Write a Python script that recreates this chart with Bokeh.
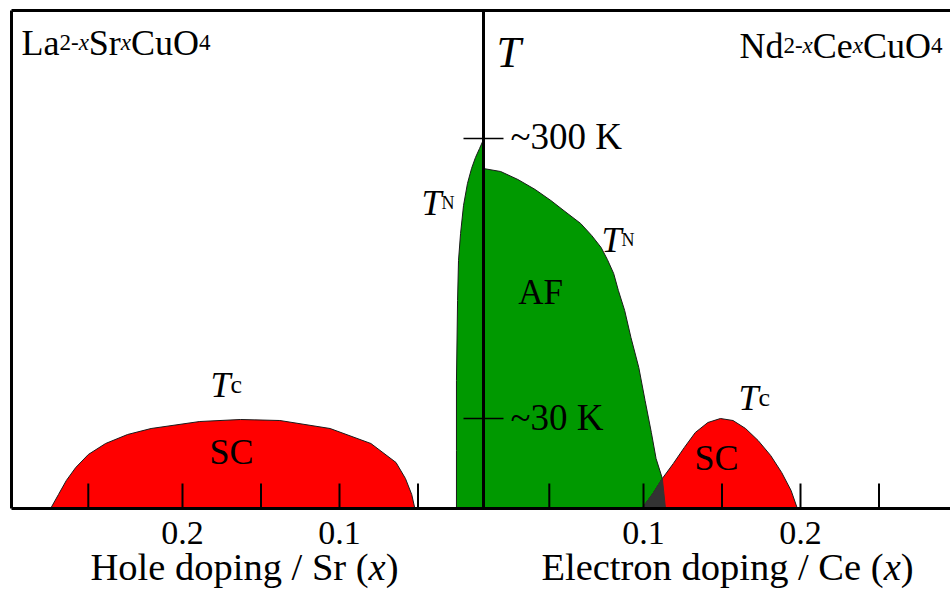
from bokeh.plotting import figure
from bokeh.models import Range1d
from bokeh.core.properties import value
from bokeh.embed import file_html
from bokeh.resources import INLINE

# ---------------- data (schematic phase diagram) ----------------
# hole-doped side (La2-xSrxCuO4), x = Sr content, t = schematic temperature height
hole_sc_x = [0.284, 0.279, 0.274, 0.268, 0.260, 0.249, 0.235, 0.220, 0.189, 0.163, 0.138, 0.106, 0.080,
             0.064, 0.058, 0.054, 0.052]
hole_sc_t = [0, 14, 28, 41, 54, 65, 74, 80, 87, 89, 88, 80, 65, 46, 30, 14, 0]
hole_af_x = [0.008, 0.0255, 0.0255, 0.0255, 0.0248, 0.0242, 0.0229, 0.0210, 0.0185, 0.0159, 0.0134, 0.0108, 0.008]
hole_af_t = [0, 0, 58, 128, 208, 248, 275, 303, 325, 340, 351, 360, 370]
# electron-doped side (Nd2-xCexCuO4), x = Ce content
elec_sc_x = [0.099, 0.106, 0.112, 0.119, 0.126, 0.133, 0.141, 0.149, 0.157, 0.165, 0.173, 0.181, 0.188, 0.194, 0.198]
elec_sc_t = [0, 15, 30, 45, 61, 76, 86, 90, 88, 80, 68, 53, 36, 18, 0]
elec_af_x = [-0.002, -0.002, 0.009, 0.020, 0.031, 0.041, 0.050, 0.060, 0.067, 0.073, 0.077, 0.081, 0.084,
             0.088, 0.092, 0.097, 0.101, 0.105, 0.108, 0.112, 0.114]
elec_af_t = [0, 340, 337, 329, 319, 308, 297, 285, 273, 261, 249, 235, 218, 198, 171, 141, 108, 76, 50, 30, 0]
overlap_x = [0.099, 0.106, 0.112, 0.114]
overlap_t = [0, 15, 30, 0]

hole_ticks = [0.05, 0.10, 0.15, 0.20, 0.26]
elec_ticks = [0.04, 0.10, 0.15, 0.20, 0.25]
hole_tick_labels = [0.2, 0.1]
elec_tick_labels = [0.1, 0.2]
t_marks = [370, 90]
t_mark_labels = ["~300 K", "~30 K"]

GREEN = "#009900"
RED = "#ff0000"
DARK = "#333333"
EDGE = "#1a1a1a"
FONT = value("Liberation Serif")

W, H = 950, 592
PX = 1570.0  # pixels per unit doping
DY = 11      # text baseline correction
p = figure(width=W, height=H, x_range=Range1d(0, W), y_range=Range1d(-84, 508),
           output_backend="svg", toolbar_location=None, min_border=0,
           x_axis_location=None, y_axis_location=None)
p.grid.visible = False
p.outline_line_color = None
p.background_fill_color = "white"
p.extra_x_ranges = {
    "hole": Range1d(start=496 / PX, end=(496 - W) / PX),
    "elec": Range1d(start=-486 / PX, end=(W - 486) / PX),
}

# regions
p.patch(hole_af_x, hole_af_t, x_range_name="hole", fill_color=GREEN, line_color=EDGE, line_width=1)
p.patch(elec_af_x, elec_af_t, x_range_name="elec", fill_color=GREEN, line_color=EDGE, line_width=1)
p.patch(hole_sc_x, hole_sc_t, x_range_name="hole", fill_color=RED, line_color=EDGE, line_width=1)
p.patch(elec_sc_x, elec_sc_t, x_range_name="elec", fill_color=RED, line_color=EDGE, line_width=1)
p.patch(overlap_x, overlap_t, x_range_name="elec", fill_color=DARK, line_color=DARK, line_width=1)

# frame lines
p.segment(x0=[11, 11, 11, 483], y0=[498, 0, 0, 0], x1=[W, W, 11, 483], y1=[498, 0, 498, 498],
          line_color="black", line_width=3)

# doping ticks
p.segment(x0=hole_ticks, x1=hole_ticks, y0=[0] * len(hole_ticks), y1=[25] * len(hole_ticks),
          x_range_name="hole", line_color="black", line_width=2)
p.segment(x0=elec_ticks, x1=elec_ticks, y0=[0] * len(elec_ticks), y1=[25] * len(elec_ticks),
          x_range_name="elec", line_color="black", line_width=2)

# temperature marks
p.segment(x0=[463] * 2, x1=[503] * 2, y0=t_marks, y1=t_marks, line_color="black", line_width=1.3)

# ---------------- text helpers ----------------
WID = {' ': 250, '(': 333, ')': 333, '-': 333, '.': 250, '/': 278, '~': 541,
       'A': 722, 'C': 667, 'E': 611, 'F': 556, 'H': 722, 'K': 722, 'L': 611, 'N': 722,
       'O': 722, 'S': 556, 'T': 611, 'a': 444, 'c': 444, 'd': 500, 'e': 444, 'g': 500,
       'i': 278, 'l': 278, 'n': 500, 'o': 500, 'p': 500, 'r': 333, 't': 278, 'u': 500, 'x': 500}
WID_IT = {'T': 556, 'x': 444, 'c': 444}


def seg_width(s, size, style):
    tot = 0
    for ch in s:
        if style == "italic" and ch in WID_IT:
            tot += WID_IT[ch]
        elif ch.isdigit():
            tot += 500
        else:
            tot += WID.get(ch, 500)
    return tot / 1000 * size


def rich(x0, y, segs, align="left"):
    total = sum(seg_width(t, s, st) for t, s, st in segs)
    x = x0 if align == "left" else (x0 - total / 2 if align == "center" else x0 - total)
    for t, s, st in segs:
        p.text(x=[x], y=[y + DY], text=[t], text_font=FONT, text_font_size=f"{s}px",
               text_font_style=st, text_baseline="alphabetic", text_align="left",
               text_color="black")
        x += seg_width(t, s, st)


M, S = 36, 23
rich(21, 455, [("La", M, "normal"), ("2-", S, "normal"), ("x", S, "italic"), ("Sr", M, "normal"),
               ("x", S, "italic"), ("CuO", M, "normal"), ("4", S, "normal")])
rich(942, 452, [("Nd", M, "normal"), ("2-", S, "normal"), ("x", S, "italic"), ("Ce", M, "normal"),
                ("x", S, "italic"), ("CuO", M, "normal"), ("4", S, "normal")], align="right")
rich(496, 445, [("T", 44, "italic")])
rich(421, 295, [("T", 36, "italic"), ("N", 18, "normal")])
rich(601, 258, [("T", 36, "italic"), ("N", 18, "normal")])
rich(210, 113, [("T", 36, "italic"), ("c", 26, "normal")])
rich(738, 100, [("T", 36, "italic"), ("c", 26, "normal")])
rich(540, 205, [("AF", 35, "normal")], align="center")
rich(231, 46, [("SC", 36, "normal")], align="center")
rich(716, 40, [("SC", 36, "normal")], align="center")
rich(510, 361, [(t_mark_labels[0], 37, "normal")])
rich(510, 80, [(t_mark_labels[1], 37, "normal")])

# tick labels
p.text(x=hole_tick_labels, y=[-35 + DY] * 2, text=[str(v) for v in hole_tick_labels], x_range_name="hole",
       text_font=FONT, text_font_size="34px", text_align="center", text_baseline="alphabetic")
p.text(x=elec_tick_labels, y=[-35 + DY] * 2, text=[str(v) for v in elec_tick_labels], x_range_name="elec",
       text_font=FONT, text_font_size="34px", text_align="center", text_baseline="alphabetic")

# axis titles
TS = 38.5
rich(244, -69, [("Hole doping / Sr (", TS, "normal"), ("x", TS, "italic"), (")", TS, "normal")], align="center")
rich(727, -69, [("Electron doping / Ce (", TS, "normal"), ("x", TS, "italic"), (")", TS, "normal")], align="center")

open("out.html", "w").write(file_html(p, INLINE))
